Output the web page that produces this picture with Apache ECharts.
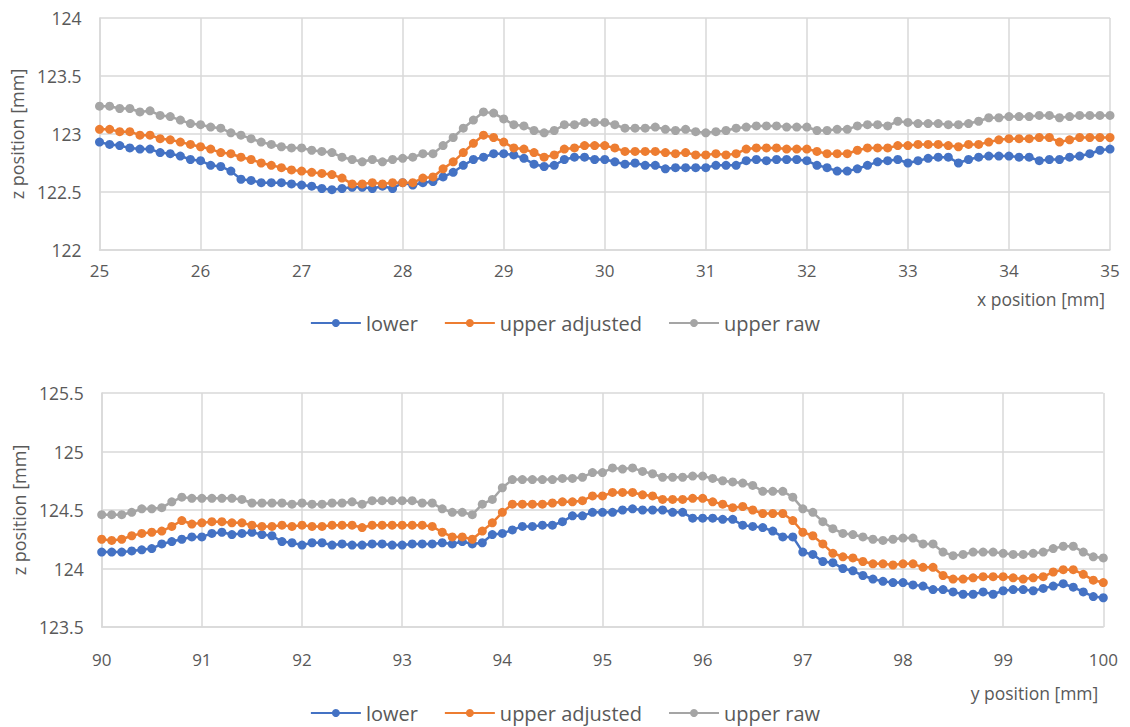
<!DOCTYPE html>
<html>
<head>
<meta charset="utf-8">
<script src="https://cdn.jsdelivr.net/npm/echarts@6/dist/echarts.min.js"></script>
<style>
html,body{margin:0;padding:0;background:#fff;}
#chart{width:1130px;height:727px;}
</style>
</head>
<body>
<div id="chart"></div>
<script>
// ---- Top panel: x position [mm] ----
const xTop = [25.0,25.1,25.2,25.3,25.4,25.5,25.6,25.7,25.8,25.9,26.0,26.1,26.2,26.3,26.4,26.5,26.6,26.7,26.8,26.9,27.0,27.1,27.2,27.3,27.4,27.5,27.6,27.7,27.8,27.9,28.0,28.1,28.2,28.3,28.4,28.5,28.6,28.7,28.8,28.9,29.0,29.1,29.2,29.3,29.4,29.5,29.6,29.7,29.8,29.9,30.0,30.1,30.2,30.3,30.4,30.5,30.6,30.7,30.8,30.9,31.0,31.1,31.2,31.3,31.4,31.5,31.6,31.7,31.8,31.9,32.0,32.1,32.2,32.3,32.4,32.5,32.6,32.7,32.8,32.9,33.0,33.1,33.2,33.3,33.4,33.5,33.6,33.7,33.8,33.9,34.0,34.1,34.2,34.3,34.4,34.5,34.6,34.7,34.8,34.9,35.0];
const topLower = [122.93,122.91,122.90,122.88,122.87,122.87,122.84,122.83,122.81,122.78,122.77,122.73,122.72,122.68,122.61,122.60,122.58,122.58,122.58,122.57,122.56,122.55,122.53,122.52,122.53,122.54,122.54,122.53,122.55,122.53,122.58,122.56,122.58,122.59,122.63,122.67,122.73,122.78,122.80,122.83,122.83,122.82,122.79,122.74,122.72,122.73,122.78,122.80,122.80,122.78,122.78,122.76,122.74,122.75,122.73,122.73,122.70,122.71,122.71,122.71,122.71,122.73,122.73,122.73,122.77,122.78,122.77,122.78,122.78,122.78,122.77,122.73,122.71,122.68,122.68,122.70,122.73,122.76,122.77,122.78,122.75,122.77,122.79,122.80,122.80,122.75,122.78,122.80,122.81,122.81,122.81,122.80,122.80,122.77,122.78,122.78,122.80,122.81,122.83,122.86,122.87];
const topUpperAdj = [123.04,123.04,123.02,123.02,122.99,122.99,122.96,122.95,122.93,122.91,122.89,122.87,122.84,122.83,122.80,122.78,122.75,122.73,122.71,122.69,122.68,122.67,122.66,122.65,122.62,122.57,122.57,122.58,122.57,122.58,122.58,122.58,122.62,122.63,122.70,122.76,122.84,122.92,122.99,122.97,122.93,122.88,122.87,122.84,122.80,122.82,122.87,122.88,122.90,122.90,122.90,122.88,122.85,122.85,122.85,122.85,122.84,122.83,122.84,122.82,122.82,122.83,122.82,122.83,122.87,122.88,122.88,122.88,122.87,122.87,122.87,122.85,122.83,122.83,122.83,122.86,122.88,122.88,122.88,122.90,122.90,122.91,122.91,122.91,122.90,122.89,122.91,122.91,122.93,122.95,122.96,122.96,122.96,122.97,122.97,122.93,122.95,122.97,122.97,122.97,122.97];
const topUpperRaw = [123.24,123.24,123.22,123.22,123.19,123.20,123.16,123.15,123.12,123.09,123.08,123.06,123.05,123.01,122.99,122.96,122.93,122.91,122.89,122.88,122.88,122.86,122.85,122.84,122.80,122.78,122.76,122.78,122.76,122.78,122.79,122.80,122.83,122.83,122.90,122.97,123.05,123.12,123.19,123.18,123.13,123.08,123.07,123.03,123.01,123.03,123.08,123.08,123.10,123.10,123.10,123.08,123.05,123.05,123.05,123.06,123.04,123.03,123.04,123.02,123.01,123.02,123.03,123.05,123.06,123.07,123.07,123.07,123.06,123.06,123.06,123.03,123.03,123.04,123.04,123.07,123.08,123.08,123.07,123.11,123.10,123.09,123.09,123.09,123.08,123.08,123.09,123.11,123.14,123.14,123.15,123.15,123.15,123.16,123.16,123.14,123.15,123.16,123.16,123.16,123.16];

// ---- Bottom panel: y position [mm] ----
const xBottom = [90.0,90.1,90.2,90.3,90.4,90.5,90.6,90.7,90.8,90.9,91.0,91.1,91.2,91.3,91.4,91.5,91.6,91.7,91.8,91.9,92.0,92.1,92.2,92.3,92.4,92.5,92.6,92.7,92.8,92.9,93.0,93.1,93.2,93.3,93.4,93.5,93.6,93.7,93.8,93.9,94.0,94.1,94.2,94.3,94.4,94.5,94.6,94.7,94.8,94.9,95.0,95.1,95.2,95.3,95.4,95.5,95.6,95.7,95.8,95.9,96.0,96.1,96.2,96.3,96.4,96.5,96.6,96.7,96.8,96.9,97.0,97.1,97.2,97.3,97.4,97.5,97.6,97.7,97.8,97.9,98.0,98.1,98.2,98.3,98.4,98.5,98.6,98.7,98.8,98.9,99.0,99.1,99.2,99.3,99.4,99.5,99.6,99.7,99.8,99.9,100.0];
const botLower = [124.14,124.14,124.14,124.15,124.16,124.17,124.21,124.23,124.25,124.27,124.27,124.30,124.31,124.29,124.30,124.31,124.29,124.28,124.23,124.22,124.20,124.22,124.22,124.20,124.21,124.20,124.20,124.21,124.21,124.20,124.20,124.21,124.21,124.21,124.22,124.21,124.23,124.21,124.22,124.29,124.30,124.33,124.36,124.36,124.37,124.37,124.40,124.45,124.45,124.48,124.48,124.48,124.50,124.51,124.50,124.50,124.50,124.48,124.48,124.43,124.43,124.43,124.42,124.42,124.37,124.36,124.35,124.32,124.27,124.27,124.14,124.12,124.06,124.05,124.00,123.98,123.94,123.91,123.89,123.88,123.88,123.86,123.85,123.82,123.82,123.80,123.78,123.78,123.80,123.78,123.81,123.82,123.82,123.81,123.83,123.85,123.87,123.84,123.80,123.76,123.75];
const botUpperAdj = [124.25,124.24,124.25,124.28,124.30,124.31,124.32,124.36,124.41,124.38,124.39,124.40,124.40,124.39,124.39,124.37,124.36,124.36,124.37,124.36,124.37,124.36,124.36,124.37,124.37,124.37,124.35,124.37,124.37,124.37,124.37,124.37,124.37,124.36,124.31,124.27,124.27,124.25,124.32,124.39,124.48,124.55,124.55,124.55,124.55,124.56,124.57,124.57,124.58,124.62,124.62,124.65,124.65,124.65,124.63,124.62,124.59,124.59,124.59,124.60,124.60,124.57,124.55,124.52,124.53,124.50,124.47,124.47,124.47,124.41,124.31,124.28,124.21,124.13,124.10,124.09,124.06,124.04,124.04,124.03,124.04,124.04,124.01,124.01,123.94,123.91,123.91,123.92,123.93,123.93,123.93,123.92,123.91,123.92,123.93,123.97,123.99,123.99,123.95,123.90,123.88];
const botUpperRaw = [124.46,124.46,124.46,124.48,124.51,124.51,124.52,124.57,124.61,124.60,124.60,124.60,124.60,124.60,124.59,124.56,124.56,124.56,124.56,124.55,124.56,124.55,124.55,124.56,124.56,124.57,124.55,124.58,124.58,124.58,124.58,124.58,124.56,124.56,124.51,124.48,124.48,124.46,124.55,124.59,124.69,124.76,124.76,124.76,124.76,124.76,124.77,124.77,124.78,124.82,124.82,124.86,124.85,124.86,124.83,124.81,124.78,124.78,124.78,124.79,124.79,124.77,124.75,124.74,124.73,124.71,124.66,124.66,124.66,124.61,124.51,124.48,124.40,124.34,124.30,124.29,124.27,124.25,124.24,124.25,124.26,124.26,124.21,124.21,124.14,124.11,124.12,124.14,124.14,124.14,124.13,124.12,124.12,124.13,124.14,124.17,124.19,124.19,124.14,124.10,124.09];

const seriesNames = ['lower', 'upper adjusted', 'upper raw'];
const colors = ['#4472C4', '#ED7D31', '#A5A5A5'];

const FONT = "'Open Sans', 'Liberation Sans', sans-serif";
const TXT = '#595959';
const GRID = '#D9D9D9';

function pairs(xs, ys) { return xs.map((x, i) => [x, ys[i]]); }

function mkSeries(name, color, xIdx, xs, ys) {
  return {
    name: name, type: 'line', xAxisIndex: xIdx, yAxisIndex: xIdx,
    data: pairs(xs, ys),
    symbol: 'circle', symbolSize: 9, showSymbol: true,
    lineStyle: { color: color, width: 2.5 },
    itemStyle: { color: color },
    animation: false
  };
}

function xAx(gridIndex, min, max, name, margin, namePad) {
  return {
    type: 'value', gridIndex: gridIndex, min: min, max: max, interval: 1,
    axisLine: { show: true, lineStyle: { color: GRID, width: 1.5 } },
    axisTick: { show: false },
    splitLine: { show: true, lineStyle: { color: GRID, width: 1.5 } },
    axisLabel: { color: TXT, fontFamily: FONT, fontSize: 17, margin: margin },
    name: name, nameLocation: 'end', nameGap: 0,
    nameTextStyle: { color: TXT, fontFamily: FONT, fontSize: 17.5, align: 'right', verticalAlign: 'top', padding: namePad }
  };
}
function yAx(gridIndex, min, max, gap) {
  return {
    type: 'value', gridIndex: gridIndex, min: min, max: max, interval: 0.5,
    axisLine: { show: true, lineStyle: { color: GRID, width: 1.5 } },
    axisTick: { show: false },
    splitLine: { show: true, lineStyle: { color: GRID, width: 1.5 } },
    axisLabel: { color: TXT, fontFamily: FONT, fontSize: 17.5, margin: 18 },
    name: 'z position [mm]', nameLocation: 'middle', nameRotate: 90, nameGap: gap,
    nameTextStyle: { color: TXT, fontFamily: FONT, fontSize: 18 }
  };
}
function legend(top) {
  return {
    data: seriesNames, top: top, left: 'center', itemWidth: 50, itemHeight: 10, itemGap: 26,
    textStyle: { color: TXT, fontFamily: FONT, fontSize: 20 },
    selectedMode: false
  };
}

const chart = echarts.init(document.getElementById('chart'), null, { renderer: 'svg' });
chart.setOption({
  backgroundColor: '#fff',
  animation: false,
  grid: [
    { left: 97.5, right: 20, top: 18, height: 232 },
    { left: 101.7, right: 26.7, top: 393, height: 234 }
  ],
  legend: [legend(308), legend(698)],
  xAxis: [xAx(0, 25, 35, 'x position [mm]', 12, [40, 5, 0, 0]), xAx(1, 90, 100, 'y position [mm]', 24, [57, 5, 0, 0])],
  yAxis: [yAx(0, 122, 124, 66), yAx(1, 123.5, 125.5, 70)],
  series: [
    mkSeries('lower', colors[0], 0, xTop, topLower),
    mkSeries('upper adjusted', colors[1], 0, xTop, topUpperAdj),
    mkSeries('upper raw', colors[2], 0, xTop, topUpperRaw),
    mkSeries('lower', colors[0], 1, xBottom, botLower),
    mkSeries('upper adjusted', colors[1], 1, xBottom, botUpperAdj),
    mkSeries('upper raw', colors[2], 1, xBottom, botUpperRaw)
  ]
});
</script>
</body>
</html>
